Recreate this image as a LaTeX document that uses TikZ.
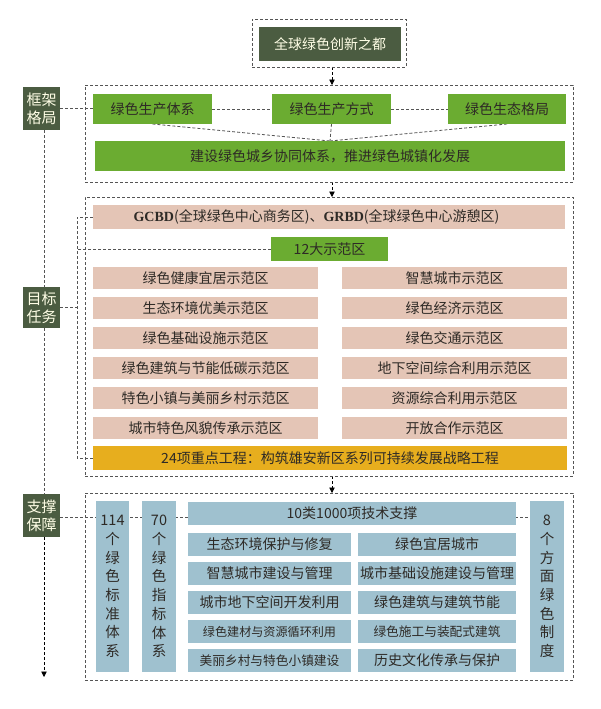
\documentclass[tikz,border=0pt]{standalone}
\usepackage{fontspec}
\setmainfont{Noto Sans CJK SC}
\newfontfamily\latserif{Liberation Serif}
\usetikzlibrary{arrows.meta}
\pgfdeclarelayer{bg}
\pgfdeclarelayer{background}
\pgfsetlayers{bg,background,main}
\definecolor{dkgreen}{HTML}{4B5C41}
\definecolor{ltgreen}{HTML}{6BAC31}
\definecolor{pinkc}{HTML}{E4C5B6}
\definecolor{yelc}{HTML}{E7AE1E}
\definecolor{bluec}{HTML}{9FC1CF}
\definecolor{linec}{HTML}{555555}
\definecolor{txtc}{HTML}{2E2A26}
\newcommand\bx[7]{\node[#6,anchor=north west,minimum width={(#4-#2)*1pt},minimum height={(#5-#3)*1pt}] (#1) at (#2,#3) {#7};}
\newcommand\gser[1]{{\latserif\bfseries\fontsize{14}{16}\selectfont #1}}
\tikzset{
  basebox/.style={inner sep=0pt, outer sep=0pt, align=center, font=\fontsize{14}{16}\selectfont},
  dashbox/.style={basebox, draw=linec, dash pattern=on 3pt off 2pt, line width=0.8pt},
  darkbox/.style={basebox, fill=dkgreen, text=white!90!yellow},
  lblbox/.style={darkbox, font=\fontsize{15}{17.7}\selectfont},
  greenbox/.style={basebox, fill=ltgreen, text=txtc},
  pinkbox/.style={basebox, fill=pinkc, text=txtc},
  yelbox/.style={basebox, fill=yelc, text=txtc},
  bluebox/.style={basebox, fill=bluec, text=txtc},
  vbox/.style={bluebox, font=\fontsize{14.5}{18.7}\selectfont},
  conn/.style={draw=linec, dash pattern=on 3pt off 2pt, line width=0.8pt},
  arr/.style={conn, -{Triangle[width=5.5pt,length=5.5pt]}, black}
}
\begin{document}
\begin{tikzpicture}[x=1pt,y=-1pt]
\useasboundingbox (0,0) rectangle (600,709);
\begin{pgfonlayer}{bg}
\fill[white] (0,0) rectangle (600,709);
\end{pgfonlayer}
% top
\bx{topd}{252}{19}{406}{67}{dashbox}{}
\bx{topb}{259}{27}{401}{61}{darkbox}{全球绿色创新之都}
% framework
\bx{lbl1}{23}{87}{60}{130}{lblbox}{框架\\格局}
\bx{fw}{85}{85}{573}{182}{dashbox}{}
\bx{g1}{93}{94}{212}{124}{greenbox}{绿色生产体系}
\bx{g2}{272}{94}{391}{124}{greenbox}{绿色生产方式}
\bx{g3}{448}{94}{566}{124}{greenbox}{绿色生态格局}
\bx{gw}{95}{141}{565}{171}{greenbox}{建设绿色城乡协同体系，推进绿色城镇化发展}
% targets
\bx{lbl2}{23}{287}{60}{328}{lblbox}{目标\\任务}
\bx{tg}{85}{197}{573}{476}{dashbox}{}
\bx{gcbd}{93}{205}{565}{229}{pinkbox}{\gser{GCBD}(全球绿色中心商务区)、\gser{GRBD}(全球绿色中心游憩区)\hspace*{25pt}}
\bx{z12}{271}{237}{388}{261}{greenbox}{12大示范区}
\bx{p1}{93}{267}{318}{289}{pinkbox}{绿色健康宜居示范区}
\bx{p2}{93}{297}{318}{319}{pinkbox}{生态环境优美示范区}
\bx{p3}{93}{327}{318}{349}{pinkbox}{绿色基础设施示范区}
\bx{p4}{93}{357}{318}{379}{pinkbox}{绿色建筑与节能低碳示范区}
\bx{p5}{93}{387}{318}{409}{pinkbox}{特色小镇与美丽乡村示范区}
\bx{p6}{93}{417}{318}{439}{pinkbox}{城市特色风貌传承示范区}
\bx{p7}{342}{267}{567}{289}{pinkbox}{智慧城市示范区}
\bx{p8}{342}{297}{567}{319}{pinkbox}{绿色经济示范区}
\bx{p9}{342}{327}{567}{349}{pinkbox}{绿色交通示范区}
\bx{p10}{342}{357}{567}{379}{pinkbox}{地下空间综合利用示范区}
\bx{p11}{342}{387}{567}{409}{pinkbox}{资源综合利用示范区}
\bx{p12}{342}{417}{567}{439}{pinkbox}{开放合作示范区}
\bx{yel}{93}{446}{567}{470}{yelbox}{24项重点工程：构筑雄安新区系列可持续发展战略工程}
% support
\bx{lbl3}{23}{494}{60}{537}{lblbox}{支撑\\保障}
\bx{sp}{85}{493}{573}{680}{dashbox}{}
\bx{s114}{96}{501}{129}{672}{vbox}{114\\个\\绿\\色\\标\\准\\体\\系}
\bx{s70}{142}{501}{176}{672}{vbox}{70\\个\\绿\\色\\指\\标\\体\\系}
\bx{t10}{188}{502}{516}{525}{bluebox}{10类1000项技术支撑}
\bx{s8}{530}{501}{564}{672}{vbox}{8\\个\\方\\面\\绿\\色\\制\\度}
\bx{b1}{188}{533}{351}{556}{bluebox}{生态环境保护与修复}
\bx{b2}{188}{562}{351}{585}{bluebox}{智慧城市建设与管理}
\bx{b3}{188}{591}{351}{614}{bluebox}{城市地下空间开发利用}
\bx{b4}{188}{620}{351}{643}{bluebox, font=\fontsize{12.1}{14}\selectfont}{绿色建材与资源循环利用}
\bx{b5}{188}{649}{351}{672}{bluebox, font=\fontsize{12.7}{14}\selectfont}{美丽乡村与特色小镇建设}
\bx{b6}{358}{533}{516}{556}{bluebox}{绿色宜居城市}
\bx{b7}{358}{562}{516}{585}{bluebox}{城市基础设施建设与管理}
\bx{b8}{358}{591}{516}{614}{bluebox}{绿色建筑与建筑节能}
\bx{b9}{358}{620}{516}{643}{bluebox, font=\fontsize{12.7}{14}\selectfont}{绿色施工与装配式建筑}
\bx{b10}{358}{649}{516}{672}{bluebox}{历史文化传承与保护}
% connectors
\begin{pgfonlayer}{background}
\draw[arr] ([xshift=3pt]topd.south) -- ([xshift=3pt]topd.south |- fw.north);
\draw[arr] ([xshift=3pt]fw.south) -- ([xshift=3pt]fw.south |- tg.north);
\draw[arr] ([xshift=3pt]tg.south) -- ([xshift=3pt]tg.south |- sp.north);
\draw[conn] (lbl1.east) -- (lbl1.east -| g1.west);
\draw[conn] (g1.east) -- (g1.east -| g2.west);
\draw[conn] (g2.east) -- (g2.east -| g3.west);
\draw[conn] (g1.south) -- (gw.north);
\draw[conn] (g2.south) -- (gw.north);
\draw[conn] (g3.south) -- (gw.north);
\draw[conn] (gcbd.west) -- ++(-16,0) coordinate (bt) |- (yel.west);
\draw[conn] (z12.west) -- (z12.west -| bt);
\draw[conn] (lbl2.east) -- (lbl2.east -| bt);
\draw[conn] ([xshift=2.5pt]lbl1.south) -- ([xshift=2.5pt]lbl2.north);
\draw[conn] ([xshift=2.5pt]lbl2.south) -- ([xshift=2.5pt]lbl3.north);
\coordinate (endc) at (44,677);
\draw[arr] ([xshift=2.5pt]lbl3.south) -- (endc);
\draw[conn] ([yshift=-1.5pt]lbl3.east) -- ([yshift=-1.5pt]lbl3.east -| s8.west);
\end{pgfonlayer}
\end{tikzpicture}
\end{document}
